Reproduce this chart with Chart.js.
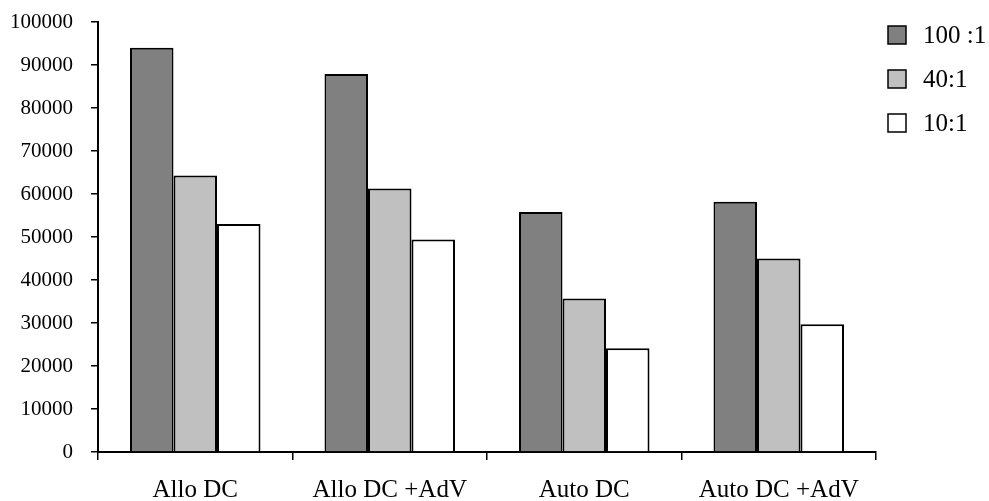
<!DOCTYPE html>
<html>
<head>
<meta charset="utf-8">
<style>
  html, body { margin: 0; padding: 0; background: #ffffff; }
  #wrap { width: 989px; height: 501px; }
</style>
<script src="https://cdn.jsdelivr.net/npm/chart.js@4/dist/chart.umd.min.js"></script>
</head>
<body>
<div id="wrap"><canvas id="c" width="989" height="501"></canvas></div>
<script>
const categories = ["Allo DC", "Allo DC +AdV", "Auto DC", "Auto DC +AdV"];
const seriesLabels = ["100 :1", "40:1", "10:1"];
const ratio100 = [94000, 87900, 55800, 58200];
const ratio40 = [64300, 61300, 35700, 45000];
const ratio10 = [53000, 49400, 24100, 29700];
const yTicks = [0, 10000, 20000, 30000, 40000, 50000, 60000, 70000, 80000, 90000, 100000];

const colors = ["#808080", "#C0C0C0", "#FFFFFF"];
const serif = "'Liberation Serif', 'Times New Roman', serif";

const legendPlugin = {
  id: 'sideLegend',
  afterDraw(chart) {
    const ctx = chart.ctx;
    const x0 = 888, y0 = 35, step = 44, box = 18;
    ctx.save();
    ctx.font = "25px " + serif;
    ctx.textBaseline = 'middle';
    ctx.textAlign = 'left';
    chart.data.datasets.forEach((ds, i) => {
      const cy = y0 + i * step;
      ctx.fillStyle = ds.backgroundColor;
      ctx.fillRect(x0, cy - box / 2, box, box);
      ctx.lineWidth = 1.5;
      ctx.strokeStyle = '#000';
      ctx.strokeRect(x0, cy - box / 2, box, box);
      ctx.fillStyle = '#000';
      ctx.fillText(ds.label, x0 + 35, cy + 1);
    });
    ctx.restore();
  }
};

new Chart(document.getElementById('c'), {
  type: 'bar',
  data: {
    labels: categories,
    datasets: [
      { label: seriesLabels[0], data: ratio100, backgroundColor: colors[0] },
      { label: seriesLabels[1], data: ratio40, backgroundColor: colors[1] },
      { label: seriesLabels[2], data: ratio10, backgroundColor: colors[2] }
    ].map(d => Object.assign(d, { borderColor: '#000', borderWidth: 2, categoryPercentage: 0.671, barPercentage: 1 }))
  },
  options: {
    responsive: false,
    animation: false,
    layout: { padding: { left: 0, right: 113, top: 22, bottom: 0 } },
    plugins: { legend: { display: false }, tooltip: { enabled: false } },
    scales: {
      x: {
        afterFit(scale) { scale.height = 49; scale.paddingLeft = 0; scale.paddingRight = 0; },
        grid: { offset: true, drawOnChartArea: false, drawTicks: true, tickLength: 8, color: '#000', lineWidth: 1.5 },
        border: { color: '#000', width: 2 },
        ticks: { color: '#000', font: { family: serif, size: 25 }, padding: 15, maxRotation: 0 }
      },
      y: {
        min: 0, max: 100000,
        afterFit(scale) { scale.width = 98; scale.paddingTop = 0; scale.paddingBottom = 0; },
        afterBuildTicks(scale) { scale.ticks = yTicks.map(v => ({ value: v })); },
        grid: { drawOnChartArea: false, drawTicks: true, tickLength: 7, color: '#000', lineWidth: 1.5 },
        border: { color: '#000', width: 2 },
        ticks: { color: '#000', font: { family: serif, size: 21 }, padding: 18, callback: v => String(v) }
      }
    }
  },
  plugins: [legendPlugin]
});
</script>
</body>
</html>
